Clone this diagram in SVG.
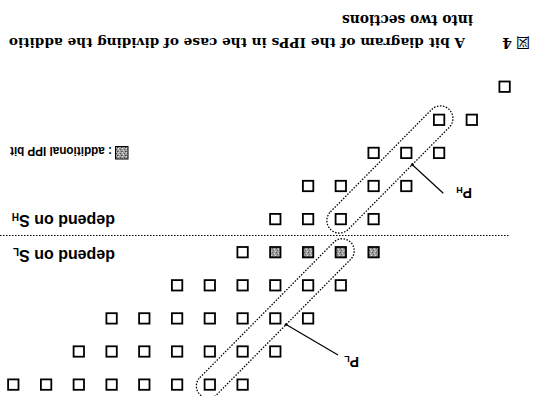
<svg xmlns="http://www.w3.org/2000/svg" width="534" height="396" viewBox="0 0 534 396">
  <defs>
    <!-- halftone fill used for the additional IPP bits -->
    <pattern id="halftone" width="4" height="4" patternUnits="userSpaceOnUse">
      <rect width="4" height="4" fill="#a0a0a0"/>
      <rect x="0" y="0" width="1" height="1" fill="#444"/>
      <rect x="2" y="1" width="1" height="1" fill="#dcdcdc"/>
      <rect x="1" y="2" width="1" height="1" fill="#555"/>
      <rect x="3" y="3" width="1" height="1" fill="#e6e6e6"/>
      <rect x="3" y="0" width="1" height="1" fill="#777"/>
    </pattern>
  </defs>
  <style>
    .cell{fill:#fff;stroke:#000;stroke-width:1.8}
    .add{fill:url(#halftone)}
    .loop{fill:none;stroke:#000;stroke-width:1.3;stroke-dasharray:1.5 1.5}
    .rule{fill:none;stroke:#000;stroke-width:1.2;stroke-dasharray:1.5 1.5}
    .lead{fill:none;stroke:#000;stroke-width:1.2}
    .cap{font-family:"DejaVu Serif","Liberation Serif",serif;font-weight:bold;font-size:14px;fill:#000}
    .cap-long{font-family:"DejaVu Serif","Liberation Serif",serif;font-weight:bold;font-size:12.5px;fill:#000}
    .cjk{font-family:"Noto Sans CJK JP","DejaVu Serif",serif;font-size:14px;fill:#000}
    .lbl{font-family:"Liberation Sans",Arial,sans-serif;font-weight:bold;font-size:16px;fill:#000}
    .leg{font-family:"Liberation Sans",Arial,sans-serif;font-weight:bold;font-size:13px;fill:#000}
    .pl{font-family:"Liberation Sans",Arial,sans-serif;font-weight:bold;font-size:14px;fill:#000}
  </style>

  <rect width="534" height="396" fill="#fff"/>

  <!-- bit cells, one group per row -->
  <g id="row0" transform="translate(0,86.7)">
    <rect class="cell" x="499.4" y="-5.2" width="10.4" height="10.4"/>
  </g>
  <g id="row1" transform="translate(0,119.8)">
    <rect class="cell" x="433.9" y="-5.2" width="10.4" height="10.4"/>
    <rect class="cell" x="466.6" y="-5.2" width="10.4" height="10.4"/>
  </g>
  <g id="row2" transform="translate(0,152.9)">
    <rect class="cell" x="368.4" y="-5.2" width="10.4" height="10.4"/>
    <rect class="cell" x="401.1" y="-5.2" width="10.4" height="10.4"/>
    <rect class="cell" x="433.9" y="-5.2" width="10.4" height="10.4"/>
  </g>
  <g id="row3" transform="translate(0,186)">
    <rect class="cell" x="302.9" y="-5.2" width="10.4" height="10.4"/>
    <rect class="cell" x="335.6" y="-5.2" width="10.4" height="10.4"/>
    <rect class="cell" x="368.4" y="-5.2" width="10.4" height="10.4"/>
    <rect class="cell" x="401.1" y="-5.2" width="10.4" height="10.4"/>
  </g>
  <g id="row4" transform="translate(0,219.1)">
    <rect class="cell" x="270.1" y="-5.2" width="10.4" height="10.4"/>
    <rect class="cell" x="302.9" y="-5.2" width="10.4" height="10.4"/>
    <rect class="cell" x="335.6" y="-5.2" width="10.4" height="10.4"/>
    <rect class="cell" x="368.4" y="-5.2" width="10.4" height="10.4"/>
  </g>
  <g id="row5" transform="translate(0,252.2)">
    <rect class="cell" x="237.4" y="-5.2" width="10.4" height="10.4"/>
    <rect class="cell add" x="270.1" y="-5.2" width="10.4" height="10.4"/>
    <rect class="cell add" x="302.9" y="-5.2" width="10.4" height="10.4"/>
    <rect class="cell add" x="335.6" y="-5.2" width="10.4" height="10.4"/>
    <rect class="cell add" x="368.4" y="-5.2" width="10.4" height="10.4"/>
  </g>
  <g id="row6" transform="translate(0,285.3)">
    <rect class="cell" x="171.9" y="-5.2" width="10.4" height="10.4"/>
    <rect class="cell" x="204.6" y="-5.2" width="10.4" height="10.4"/>
    <rect class="cell" x="237.4" y="-5.2" width="10.4" height="10.4"/>
    <rect class="cell" x="270.1" y="-5.2" width="10.4" height="10.4"/>
    <rect class="cell" x="302.9" y="-5.2" width="10.4" height="10.4"/>
    <rect class="cell" x="335.6" y="-5.2" width="10.4" height="10.4"/>
  </g>
  <g id="row7" transform="translate(0,318.4)">
    <rect class="cell" x="106.4" y="-5.2" width="10.4" height="10.4"/>
    <rect class="cell" x="139.1" y="-5.2" width="10.4" height="10.4"/>
    <rect class="cell" x="171.9" y="-5.2" width="10.4" height="10.4"/>
    <rect class="cell" x="204.6" y="-5.2" width="10.4" height="10.4"/>
    <rect class="cell" x="237.4" y="-5.2" width="10.4" height="10.4"/>
    <rect class="cell" x="270.1" y="-5.2" width="10.4" height="10.4"/>
    <rect class="cell" x="302.9" y="-5.2" width="10.4" height="10.4"/>
  </g>
  <g id="row8" transform="translate(0,351.5)">
    <rect class="cell" x="73.6" y="-5.2" width="10.4" height="10.4"/>
    <rect class="cell" x="106.4" y="-5.2" width="10.4" height="10.4"/>
    <rect class="cell" x="139.1" y="-5.2" width="10.4" height="10.4"/>
    <rect class="cell" x="171.9" y="-5.2" width="10.4" height="10.4"/>
    <rect class="cell" x="204.6" y="-5.2" width="10.4" height="10.4"/>
    <rect class="cell" x="237.4" y="-5.2" width="10.4" height="10.4"/>
    <rect class="cell" x="270.1" y="-5.2" width="10.4" height="10.4"/>
  </g>
  <g id="row9" transform="translate(0,384.6)">
    <rect class="cell" x="8.1" y="-5.2" width="10.4" height="10.4"/>
    <rect class="cell" x="40.9" y="-5.2" width="10.4" height="10.4"/>
    <rect class="cell" x="73.6" y="-5.2" width="10.4" height="10.4"/>
    <rect class="cell" x="106.4" y="-5.2" width="10.4" height="10.4"/>
    <rect class="cell" x="139.1" y="-5.2" width="10.4" height="10.4"/>
    <rect class="cell" x="171.9" y="-5.2" width="10.4" height="10.4"/>
    <rect class="cell" x="204.6" y="-5.2" width="10.4" height="10.4"/>
    <rect class="cell" x="237.4" y="-5.2" width="10.4" height="10.4"/>
  </g>

  <!-- dotted groupings, section boundary and leaders -->
  <g id="connectors">
    <rect id="loop-ph" class="loop" x="305.55" y="157" width="168.7" height="25" rx="12.5" transform="rotate(-45.3 389.9 169.5)"/>
    <rect id="loop-pl" class="loop" x="168.15" y="306.4" width="214.3" height="24" rx="12" transform="rotate(-45.3 275.3 318.4)"/>
    <line class="rule" x1="0" y1="235.5" x2="510" y2="235.5"/>
    <line class="lead" x1="412.3" y1="164.7" x2="443.3" y2="193.3"/>
    <circle cx="412.3" cy="164.7" r="1.4"/>
    <line class="lead" x1="286.1" y1="324.6" x2="338" y2="355"/>
    <circle cx="286.1" cy="324.6" r="1.4"/>
  </g>

  <!-- all lettering, set upside down with the page -->
  <g id="labels" transform="rotate(180 267 198)">
    <g id="caption">
      <text class="cjk" x="4" y="358">図</text>
      <text class="cap" x="22" y="358">4</text>
      <text class="cap-long" x="69" y="358" textLength="456" lengthAdjust="spacingAndGlyphs">A bit diagram of the IPPs in the case of dividing the additio</text>
      <text class="cap" x="61" y="381" textLength="131" lengthAdjust="spacingAndGlyphs">into two sections</text>
    </g>
    <g id="legend">
      <rect x="406" y="237" width="12.5" height="12.5" fill="url(#halftone)" stroke="#000" stroke-width="1"/>
      <text class="leg" x="422" y="248.7" textLength="102" lengthAdjust="spacingAndGlyphs">: additional IPP bit</text>
    </g>
    <g id="label-sl">
      <text class="lbl" x="419" y="146">depend on S<tspan font-size="10" dy="2">L</tspan></text>
    </g>
    <g id="label-sh">
      <text class="lbl" x="419" y="181">depend on S<tspan font-size="10" dy="2">H</tspan></text>
    </g>
    <g id="label-ph">
      <text class="pl" x="62" y="208">P<tspan font-size="9" dy="1">H</tspan></text>
    </g>
    <g id="label-pl">
      <text class="pl" x="175" y="39">P<tspan font-size="9" dy="1">L</tspan></text>
    </g>
  </g>
</svg>
